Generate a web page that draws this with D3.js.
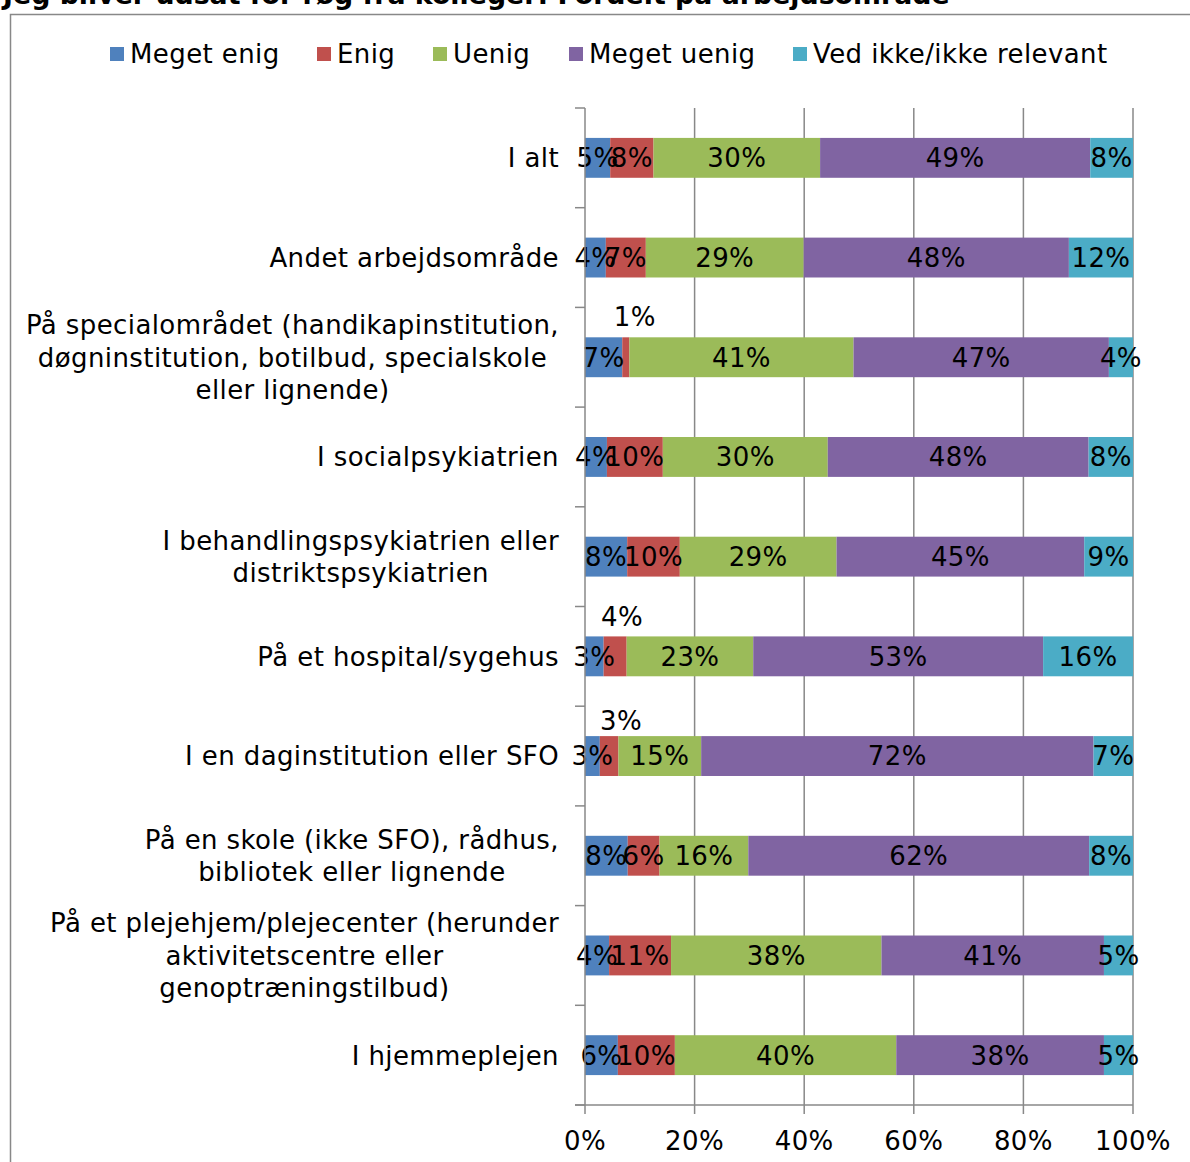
<!DOCTYPE html>
<html>
<head>
<meta charset="utf-8">
<script src="https://cdn.jsdelivr.net/npm/d3@7"></script>
<style>
  body { margin: 0; background: #fff; }
  svg { display: block; font-family: "DejaVu Sans", Verdana, sans-serif; letter-spacing: 0.4px; }
</style>
</head>
<body>
<div id="graph1"></div>
<script>
// data
var title = "Jeg bliver udsat for røg fra kolleger: Fordelt på arbejdsområde";
var series_names = ["Meget enig", "Enig", "Uenig", "Meget uenig", "Ved ikke/ikke relevant"];
var series_colors = ["#4F81BD", "#C0504D", "#9BBB59", "#8064A2", "#4BACC6"];
var categories = [
  ["I alt"],
  ["Andet arbejdsområde"],
  ["På specialområdet (handikapinstitution,", "døgninstitution, botilbud, specialskole", "eller lignende)"],
  ["I socialpsykiatrien"],
  ["I behandlingspsykiatrien eller", "distriktspsykiatrien"],
  ["På et hospital/sygehus"],
  ["I en daginstitution eller SFO"],
  ["På en skole (ikke SFO), rådhus,", "bibliotek eller lignende"],
  ["På et plejehjem/plejecenter (herunder", "aktivitetscentre eller", "genoptræningstilbud)"],
  ["I hjemmeplejen"]
];
var meget_enig  = [4.6, 3.8, 6.8, 4.0, 7.7, 3.4, 2.7, 7.8, 4.4, 6.0];
var enig        = [7.9, 7.3, 1.3, 10.2, 9.6, 4.2, 3.4, 5.8, 11.3, 10.4];
var uenig       = [30.4, 28.8, 40.9, 30.1, 28.6, 23.1, 15.1, 16.2, 38.4, 40.4];
var meget_uenig = [49.3, 48.4, 46.6, 47.6, 45.2, 52.9, 71.6, 62.2, 40.6, 37.9];
var ved_ikke    = [7.8, 11.7, 4.4, 8.1, 8.9, 16.4, 7.2, 8.0, 5.3, 5.3];
var x_ticks = [0, 20, 40, 60, 80, 100];

// labels that were moved above the bar: row, series, shift x, shift y
var lifted = [[2, 1, 9, -41], [5, 1, 7, -40], [6, 1, 12, -35]];

function make_chart(){
  var W = 1190, H = 1162;
  var margin = {left: 585, right: 57, top: 108, bottom: 57};
  var width = W - margin.left - margin.right;
  var height = H - margin.top - margin.bottom;
  var fs = 26;

  var svg = d3.select("#graph1").append("svg")
    .attr("width", W)
    .attr("height", H);

  // title (cut off by the top edge)
  svg.append("text")
    .attr("x", 3)
    .attr("y", 4)
    .attr("font-size", 26.8)
    .attr("font-weight", "bold")
    .style("letter-spacing", "0px")
    .text(title);

  // frame
  svg.append("path")
    .attr("d", "M10.5," + H + "V14.5H" + W)
    .attr("fill", "none")
    .attr("stroke", "#888")
    .attr("stroke-width", 1.5);

  var rows = categories.map(function(c, i){
    return {i: i, "Meget enig": meget_enig[i], "Enig": enig[i], "Uenig": uenig[i],
      "Meget uenig": meget_uenig[i], "Ved ikke/ikke relevant": ved_ikke[i]};
  });
  var stack = d3.stack().keys(series_names)(rows);

  var xScale = d3.scaleLinear().domain([0, 100]).range([0, width]);
  var yScale = d3.scaleBand()
    .domain(d3.range(categories.length))
    .range([0, height])
    .paddingInner(0.6)
    .paddingOuter(0.3);

  var g = svg.append("g")
    .attr("transform", "translate(" + margin.left + "," + margin.top + ")");

  // vertical gridlines
  g.append("g")
    .selectAll("line")
    .data(x_ticks.slice(1))
    .enter().append("line")
    .attr("x1", function(d){ return xScale(d); })
    .attr("x2", function(d){ return xScale(d); })
    .attr("y1", 0)
    .attr("y2", height)
    .attr("stroke", "#888")
    .attr("stroke-width", 1.5);

  // bars
  var layer = g.selectAll(".layer")
    .data(stack)
    .enter().append("g")
    .attr("fill", function(d, i){ return series_colors[i]; });

  layer.selectAll("rect")
    .data(function(d){ return d; })
    .enter().append("rect")
    .attr("x", function(d){ return xScale(d[0]); })
    .attr("width", function(d){ return xScale(d[1]) - xScale(d[0]); })
    .attr("y", function(d){ return yScale(d.data.i); })
    .attr("height", yScale.bandwidth());

  // data labels
  stack.forEach(function(s, si){
    s.forEach(function(d){
      var cx = (xScale(d[0]) + xScale(d[1])) / 2;
      var cy = yScale(d.data.i) + yScale.bandwidth() / 2;
      lifted.forEach(function(l){
        if (l[0] == d.data.i && l[1] == si) { cx += l[2]; cy += l[3]; }
      });
      g.append("text")
        .attr("x", cx)
        .attr("y", cy)
        .attr("dy", "0.36em")
        .attr("text-anchor", "middle")
        .attr("font-size", fs)
        .attr("fill", "#000")
        .text(Math.round(d[1] - d[0]) + "%");
    });
  });

  // y axis
  var yAxis = g.append("g");
  yAxis.append("line")
    .attr("x1", 0).attr("x2", 0)
    .attr("y1", 0).attr("y2", height)
    .attr("stroke", "#888").attr("stroke-width", 1.5);
  var step = height / categories.length;
  yAxis.selectAll(".tk")
    .data(d3.range(categories.length + 1))
    .enter().append("line")
    .attr("x1", -10).attr("x2", 0)
    .attr("y1", function(d){ return d * step; })
    .attr("y2", function(d){ return d * step; })
    .attr("stroke", "#888").attr("stroke-width", 1.5);

  // category labels, centered block, right edge at the axis
  categories.forEach(function(lines, i){
    var cy = yScale(i) + yScale.bandwidth() / 2;
    var lh = 32.5;
    var t = g.append("text")
      .attr("font-size", fs)
      .attr("text-anchor", "middle");
    lines.forEach(function(line, li){
      t.append("tspan")
        .attr("y", cy + (li - (lines.length - 1) / 2) * lh)
        .attr("dy", "0.36em")
        .text(line);
    });
    var maxw = 0;
    t.selectAll("tspan").each(function(){
      maxw = Math.max(maxw, this.getComputedTextLength());
    });
    t.selectAll("tspan").attr("x", -26 - maxw / 2);
  });

  // x axis
  var xAxis = g.append("g")
    .attr("transform", "translate(0," + height + ")");
  xAxis.append("line")
    .attr("x1", -10).attr("x2", width)
    .attr("stroke", "#888").attr("stroke-width", 1.5);
  xAxis.selectAll(".tk")
    .data(x_ticks)
    .enter().append("line")
    .attr("x1", function(d){ return xScale(d); })
    .attr("x2", function(d){ return xScale(d); })
    .attr("y1", 0).attr("y2", 9)
    .attr("stroke", "#888").attr("stroke-width", 1.5);
  xAxis.selectAll(".lbl")
    .data(x_ticks)
    .enter().append("text")
    .attr("x", function(d){ return xScale(d); })
    .attr("y", 45)
    .attr("text-anchor", "middle")
    .attr("font-size", fs)
    .text(function(d){ return d + "%"; });

  // legend
  var legend_x = [110, 317, 433, 569, 793];
  var lg = svg.append("g");
  series_names.forEach(function(name, i){
    lg.append("rect")
      .attr("x", legend_x[i]).attr("y", 47)
      .attr("width", 14).attr("height", 14)
      .attr("fill", series_colors[i]);
    lg.append("text")
      .attr("x", legend_x[i] + 20)
      .attr("y", 63)
      .attr("font-size", fs)
      .text(name);
  });
}
make_chart();
</script>
</body>
</html>
